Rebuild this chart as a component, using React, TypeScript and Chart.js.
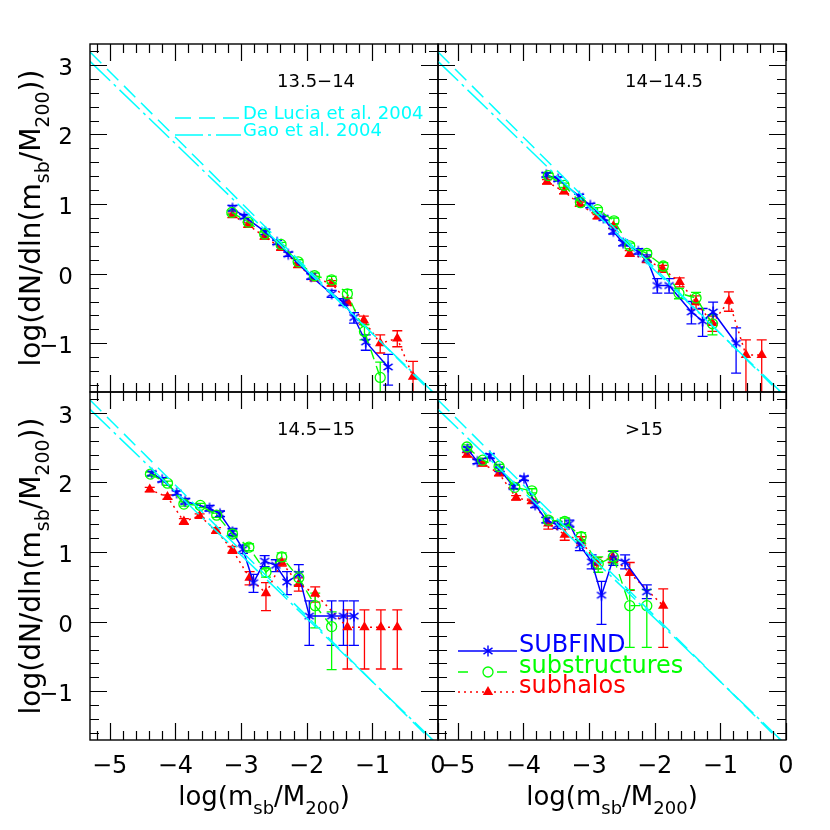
import React, { useEffect, useRef } from "react";
import { Chart, registerables } from "chart.js";
Chart.register(...registerables);

// ---------- axis ranges & tick labels ----------
const X_MIN = -5.3;
const X_MAX = 0;
const Y_MIN = -1.7;
const Y_MAX = 3.3;
const MINOR_STEP = 0.2;
const xMajorTicks = [-5, -4, -3, -2, -1, 0];
const xTickLabels = ["−5", "−4", "−3", "−2", "−1", "0"];
const yMajorTicks = [-1, 0, 1, 2, 3];
const yTickLabels = ["−1", "0", "1", "2", "3"];

const panelTitles = ["13.5−14", "14−14.5", "14.5−15", ">15"];
const seriesNames = ["SUBFIND", "substructures", "subhalos"];
const refNames = ["De Lucia et al. 2004", "Gao et al. 2004"];
const xTitleParts = [
  { t: "log(m", sub: false },
  { t: "sb", sub: true },
  { t: "/M", sub: false },
  { t: "200", sub: true },
  { t: ")", sub: false },
];
const yTitleParts = [
  { t: "log(dN/dln(m", sub: false },
  { t: "sb", sub: true },
  { t: "/M", sub: false },
  { t: "200", sub: true },
  { t: "))", sub: false },
];

// ---------- reference fits ----------
const deLuciaX = [-5.3, 0];
const deLuciaY = [3.185, -1.8];
const gaoX = [-5.3, 0];
const gaoY = [3.05, -1.77];

// ---------- panel 1 : 13.5-14 ----------
const p1SfX = [-3.13, -2.95, -2.63, -2.45, -2.28, -1.93, -1.62, -1.44, -1.28, -1.1, -0.76];
const p1SfY = [0.94, 0.82, 0.6, 0.45, 0.28, -0.04, -0.29, -0.41, -0.63, -0.98, -1.34];
const p1SfUp = [0.04, 0.03, 0.04, 0.03, 0.03, 0.04, 0.05, 0.05, 0.07, 0.1, 0.18];
const p1SfDn = [0.04, 0.03, 0.04, 0.03, 0.03, 0.04, 0.05, 0.05, 0.08, 0.12, 0.26];

const p1SsX = [-3.14, -2.89, -2.64, -2.39, -2.13, -1.88, -1.62, -1.38, -1.12, -0.88];
const p1SsY = [0.88, 0.74, 0.57, 0.42, 0.17, -0.03, -0.09, -0.29, -0.83, -1.49];
const p1SsUp = [0.03, 0.03, 0.03, 0.03, 0.03, 0.04, 0.05, 0.06, 0.1, 0.22];
const p1SsDn = [0.03, 0.03, 0.03, 0.03, 0.03, 0.04, 0.05, 0.06, 0.12, 0.4];

const p1ShX = [-3.13, -2.89, -2.64, -2.39, -2.13, -1.88, -1.62, -1.38, -1.13, -0.88, -0.62, -0.38];
const p1ShY = [0.84, 0.7, 0.53, 0.37, 0.12, -0.07, -0.14, -0.4, -0.67, -1.0, -0.93, -1.48];
const p1ShUp = [0.03, 0.03, 0.03, 0.03, 0.03, 0.03, 0.04, 0.05, 0.06, 0.12, 0.11, 0.22];
const p1ShDn = [0.03, 0.03, 0.03, 0.03, 0.03, 0.03, 0.04, 0.05, 0.06, 0.14, 0.12, 0.4];

// ---------- panel 2 : 14-14.5 ----------
const p2SfX = [-3.65, -3.47, -3.15, -2.98, -2.78, -2.63, -2.48, -2.25, -2.12, -1.96, -1.78, -1.44, -1.27, -1.11, -0.76];
const p2SfY = [1.42, 1.36, 1.11, 0.98, 0.8, 0.61, 0.44, 0.32, 0.22, -0.17, -0.17, -0.55, -0.68, -0.55, -1.0];
const p2SfUp = [0.03, 0.03, 0.03, 0.03, 0.03, 0.04, 0.04, 0.04, 0.05, 0.1, 0.1, 0.15, 0.18, 0.14, 0.22];
const p2SfDn = [0.03, 0.03, 0.03, 0.03, 0.03, 0.04, 0.04, 0.04, 0.05, 0.11, 0.11, 0.17, 0.22, 0.16, 0.43];

const p2SsX = [-3.62, -3.38, -3.13, -2.87, -2.62, -2.38, -2.12, -1.87, -1.63, -1.37, -1.12];
const p2SsY = [1.41, 1.27, 1.02, 0.92, 0.76, 0.4, 0.29, 0.11, -0.28, -0.35, -0.72];
const p2SsUp = [0.03, 0.03, 0.03, 0.03, 0.04, 0.04, 0.04, 0.05, 0.07, 0.08, 0.13];
const p2SsDn = [0.03, 0.03, 0.03, 0.03, 0.04, 0.04, 0.04, 0.05, 0.08, 0.09, 0.16];

const p2ShX = [-3.64, -3.38, -3.14, -2.87, -2.63, -2.38, -2.12, -1.88, -1.62, -1.37, -1.12, -0.87, -0.61, -0.37];
const p2ShY = [1.32, 1.18, 1.0, 0.82, 0.68, 0.29, 0.2, 0.07, -0.12, -0.41, -0.71, -0.39, -1.17, -1.17];
const p2ShUp = [0.03, 0.03, 0.03, 0.03, 0.03, 0.04, 0.04, 0.05, 0.06, 0.09, 0.1, 0.13, 0.22, 0.22];
const p2ShDn = [0.03, 0.03, 0.03, 0.03, 0.03, 0.04, 0.04, 0.05, 0.07, 0.1, 0.12, 0.15, 0.6, 0.6];

// ---------- panel 3 : 14.5-15 ----------
const p3SfX = [-4.36, -4.2, -3.98, -3.85, -3.48, -3.32, -3.13, -2.97, -2.81, -2.64, -2.47, -2.3, -2.12, -1.96, -1.62, -1.44, -1.28];
const p3SfY = [2.13, 2.04, 1.85, 1.73, 1.63, 1.55, 1.29, 1.04, 0.56, 0.87, 0.81, 0.57, 0.68, 0.08, 0.08, 0.08, 0.08];
const p3SfUp = [0.03, 0.03, 0.03, 0.04, 0.04, 0.04, 0.05, 0.06, 0.12, 0.08, 0.08, 0.15, 0.14, 0.22, 0.22, 0.22, 0.22];
const p3SfDn = [0.03, 0.03, 0.03, 0.04, 0.04, 0.04, 0.05, 0.06, 0.14, 0.08, 0.09, 0.18, 0.16, 0.42, 0.42, 0.42, 0.42];

const p3SsX = [-4.38, -4.12, -3.87, -3.62, -3.37, -3.13, -2.88, -2.62, -2.38, -2.12, -1.87, -1.62];
const p3SsY = [2.12, 1.99, 1.69, 1.67, 1.53, 1.26, 1.07, 0.71, 0.93, 0.63, 0.23, -0.07];
const p3SsUp = [0.03, 0.03, 0.03, 0.03, 0.03, 0.04, 0.05, 0.06, 0.06, 0.09, 0.18, 0.21];
const p3SsDn = [0.03, 0.03, 0.03, 0.03, 0.03, 0.04, 0.05, 0.07, 0.06, 0.1, 0.32, 0.62];

const p3ShX = [-4.39, -4.12, -3.87, -3.63, -3.38, -3.13, -2.87, -2.62, -2.38, -2.12, -1.87, -1.38, -1.12, -0.87, -0.62];
const p3ShY = [1.9, 1.79, 1.44, 1.52, 1.31, 1.03, 0.63, 0.41, 0.85, 0.54, 0.4, -0.08, -0.08, -0.08, -0.08];
const p3ShUp = [0.03, 0.03, 0.04, 0.03, 0.04, 0.05, 0.09, 0.15, 0.05, 0.09, 0.1, 0.25, 0.25, 0.25, 0.25];
const p3ShDn = [0.03, 0.03, 0.04, 0.03, 0.04, 0.05, 0.1, 0.25, 0.05, 0.1, 0.12, 0.6, 0.6, 0.6, 0.6];

// ---------- panel 4 : >15 ----------
const p4SfX = [-4.85, -4.7, -4.51, -4.36, -4.15, -3.99, -3.82, -3.65, -3.48, -3.3, -3.14, -2.96, -2.81, -2.63, -2.45, -2.12];
const p4SfY = [2.48, 2.3, 2.38, 2.19, 1.94, 2.06, 1.68, 1.46, 1.39, 1.41, 1.1, 0.86, 0.38, 0.91, 0.86, 0.43];
const p4SfUp = [0.03, 0.03, 0.03, 0.03, 0.03, 0.03, 0.04, 0.04, 0.05, 0.05, 0.08, 0.1, 0.2, 0.1, 0.1, 0.1];
const p4SfDn = [0.03, 0.03, 0.03, 0.03, 0.03, 0.03, 0.04, 0.04, 0.05, 0.05, 0.08, 0.1, 0.42, 0.1, 0.1, 0.1];

const p4SsX = [-4.86, -4.62, -4.37, -4.13, -3.87, -3.62, -3.37, -3.12, -2.86, -2.63, -2.38, -2.12];
const p4SsY = [2.51, 2.32, 2.23, 1.93, 1.88, 1.46, 1.44, 1.22, 0.83, 0.93, 0.23, 0.23];
const p4SsUp = [0.03, 0.03, 0.03, 0.03, 0.03, 0.04, 0.05, 0.06, 0.1, 0.09, 0.23, 0.23];
const p4SsDn = [0.03, 0.03, 0.03, 0.03, 0.03, 0.04, 0.05, 0.06, 0.12, 0.1, 0.6, 0.6];

const p4ShX = [-4.86, -4.62, -4.37, -4.11, -3.87, -3.62, -3.37, -3.12, -2.88, -2.64, -2.38, -1.87];
const p4ShY = [2.4, 2.27, 2.13, 1.78, 1.73, 1.41, 1.25, 1.16, 0.84, 0.93, 0.7, 0.23];
const p4ShUp = [0.03, 0.03, 0.03, 0.03, 0.03, 0.08, 0.08, 0.06, 0.08, 0.08, 0.15, 0.24];
const p4ShDn = [0.03, 0.03, 0.03, 0.03, 0.03, 0.08, 0.08, 0.06, 0.08, 0.08, 0.25, 0.6];

// ---------- styling / layout (not data) ----------
const COL_BLUE = "#0000ff";
const COL_GREEN = "#00ff00";
const COL_RED = "#ff0000";
const COL_CYAN = "#00ffff";
const FONT = '"DejaVu Sans ExtraLight", "DejaVu Sans", "Liberation Sans", sans-serif';
const W = 830;
const PANEL_LEFTS = [90, 438];
const PANEL_TOPS = [44, 392];
const PANEL_SIZE = 348;

type Series = { x: number[]; y: number[]; up: number[]; dn: number[] };
type Panel = { title: string; sf: Series; ss: Series; sh: Series };

const panels: Panel[] = [
  {
    title: panelTitles[0],
    sf: { x: p1SfX, y: p1SfY, up: p1SfUp, dn: p1SfDn },
    ss: { x: p1SsX, y: p1SsY, up: p1SsUp, dn: p1SsDn },
    sh: { x: p1ShX, y: p1ShY, up: p1ShUp, dn: p1ShDn },
  },
  {
    title: panelTitles[1],
    sf: { x: p2SfX, y: p2SfY, up: p2SfUp, dn: p2SfDn },
    ss: { x: p2SsX, y: p2SsY, up: p2SsUp, dn: p2SsDn },
    sh: { x: p2ShX, y: p2ShY, up: p2ShUp, dn: p2ShDn },
  },
  {
    title: panelTitles[2],
    sf: { x: p3SfX, y: p3SfY, up: p3SfUp, dn: p3SfDn },
    ss: { x: p3SsX, y: p3SsY, up: p3SsUp, dn: p3SsDn },
    sh: { x: p3ShX, y: p3ShY, up: p3ShUp, dn: p3ShDn },
  },
  {
    title: panelTitles[3],
    sf: { x: p4SfX, y: p4SfY, up: p4SfUp, dn: p4SfDn },
    ss: { x: p4SsX, y: p4SsY, up: p4SsUp, dn: p4SsDn },
    sh: { x: p4ShX, y: p4ShY, up: p4ShUp, dn: p4ShDn },
  },
];

function makeStar(color: string): HTMLCanvasElement {
  const c = document.createElement("canvas");
  c.width = 14;
  c.height = 14;
  const g = c.getContext("2d")!;
  g.strokeStyle = color;
  g.lineWidth = 1.4;
  const r = 5.5;
  g.beginPath();
  for (const deg of [90, 35, 145]) {
    const a = (deg * Math.PI) / 180;
    g.moveTo(7 - r * Math.cos(a), 7 - r * Math.sin(a));
    g.lineTo(7 + r * Math.cos(a), 7 + r * Math.sin(a));
  }
  g.stroke();
  return c;
}

function toPts(xs: number[], ys: number[]) {
  return xs.map((x, i) => ({ x, y: ys[i] }));
}

function drawRich(
  ctx: CanvasRenderingContext2D,
  parts: { t: string; sub: boolean }[],
  x: number,
  y: number,
  main: number,
  sub: number,
  drop: number
) {
  const fm = `${main}px ${FONT}`;
  const fs = `${sub}px ${FONT}`;
  const widths = parts.map((p) => {
    ctx.font = p.sub ? fs : fm;
    return ctx.measureText(p.t).width;
  });
  const total = widths.reduce((a, b) => a + b, 0);
  let cx = x - total / 2;
  ctx.textAlign = "left";
  ctx.textBaseline = "alphabetic";
  parts.forEach((p, i) => {
    ctx.font = p.sub ? fs : fm;
    ctx.fillText(p.t, cx, p.sub ? y + drop : y);
    cx += widths[i];
  });
}

function drawTriangle(ctx: CanvasRenderingContext2D, x: number, y: number, r: number) {
  ctx.beginPath();
  let a = 0;
  ctx.moveTo(x + Math.sin(a) * r, y - Math.cos(a) * r);
  a += (2 * Math.PI) / 3;
  ctx.lineTo(x + Math.sin(a) * r, y - Math.cos(a) * r);
  a += (2 * Math.PI) / 3;
  ctx.lineTo(x + Math.sin(a) * r, y - Math.cos(a) * r);
  ctx.closePath();
  ctx.fill();
}

function makeDeco(panel: Panel, idx: number, star: HTMLCanvasElement) {
  const col = idx % 2;
  const row = Math.floor(idx / 2);
  return {
    id: "deco" + idx,
    beforeDatasetsDraw(chart: any) {
      const { ctx, chartArea: a, scales } = chart;
      const xs = scales.x;
      const ys = scales.y;
      ctx.save();
      ctx.beginPath();
      ctx.rect(a.left, a.top, a.right - a.left, a.bottom - a.top);
      ctx.clip();
      ctx.lineWidth = 1.3;
      ctx.setLineDash([]);
      const sets: [Series, string][] = [
        [panel.sh, COL_RED],
        [panel.sf, COL_BLUE],
        [panel.ss, COL_GREEN],
      ];
      for (const [s, color] of sets) {
        ctx.strokeStyle = color;
        s.x.forEach((xv, i) => {
          const px = xs.getPixelForValue(xv);
          const pTop = ys.getPixelForValue(s.y[i] + s.up[i]);
          const pBot = ys.getPixelForValue(s.y[i] - s.dn[i]);
          ctx.beginPath();
          ctx.moveTo(px, pTop);
          ctx.lineTo(px, pBot);
          ctx.moveTo(px - 5, pTop);
          ctx.lineTo(px + 5, pTop);
          ctx.moveTo(px - 5, pBot);
          ctx.lineTo(px + 5, pBot);
          ctx.stroke();
        });
      }
      ctx.restore();
    },
    afterDraw(chart: any) {
      const { ctx, chartArea: a, scales } = chart;
      const xs = scales.x;
      const ys = scales.y;
      ctx.save();
      ctx.setLineDash([]);
      // frame
      ctx.strokeStyle = "#000";
      ctx.lineWidth = 1.4;
      ctx.strokeRect(a.left, a.top, a.right - a.left, a.bottom - a.top);
      // ticks
      ctx.lineWidth = 1.2;
      ctx.beginPath();
      for (let k = Math.ceil(X_MIN / MINOR_STEP - 1e-9); k * MINOR_STEP <= X_MAX + 1e-9; k++) {
        const v = k * MINOR_STEP;
        const major = Math.abs(v - Math.round(v)) < 1e-6;
        const len = major ? 17 : 9;
        const px = Math.round(xs.getPixelForValue(v)) + 0.5;
        ctx.moveTo(px, a.bottom);
        ctx.lineTo(px, a.bottom - len);
        ctx.moveTo(px, a.top);
        ctx.lineTo(px, a.top + len);
      }
      for (let k = Math.ceil(Y_MIN / MINOR_STEP - 1e-9); k * MINOR_STEP <= Y_MAX + 1e-9; k++) {
        const v = k * MINOR_STEP;
        const major = Math.abs(v - Math.round(v)) < 1e-6;
        const len = major ? 17 : 9;
        const py = Math.round(ys.getPixelForValue(v)) + 0.5;
        ctx.moveTo(a.left, py);
        ctx.lineTo(a.left + len, py);
        ctx.moveTo(a.right, py);
        ctx.lineTo(a.right - len, py);
      }
      ctx.stroke();

      ctx.fillStyle = "#000";
      if (row === 1) {
        drawRich(ctx, xTitleParts, (a.left + a.right) / 2, a.bottom + 65, 26, 18, 9);
        ctx.font = `24px ${FONT}`;
        ctx.textAlign = "center";
        ctx.textBaseline = "alphabetic";
        xMajorTicks.forEach((v, i) => {
          ctx.fillText(xTickLabels[i], xs.getPixelForValue(v), a.bottom + 33);
        });
      }
      if (col === 0) {
        ctx.save();
        ctx.translate(40, (a.top + a.bottom) / 2);
        ctx.rotate(-Math.PI / 2);
        drawRich(ctx, yTitleParts, 0, 0, 28, 19, 9);
        ctx.restore();
        ctx.font = `23px ${FONT}`;
        ctx.textAlign = "right";
        ctx.textBaseline = "middle";
        yMajorTicks.forEach((v, i) => {
          ctx.fillText(yTickLabels[i], a.left - 17, ys.getPixelForValue(v) + 4);
        });
      }
      // panel title
      ctx.font = `18px ${FONT}`;
      ctx.textAlign = "left";
      ctx.textBaseline = "alphabetic";
      ctx.fillText(panel.title, a.left + 187, a.top + 43);

      // reference-fit legend (first panel)
      if (idx === 0) {
        ctx.strokeStyle = COL_CYAN;
        ctx.fillStyle = COL_CYAN;
        ctx.lineWidth = 1.5;
        const lx0 = a.left + 85;
        const lx1 = a.left + 151;
        ctx.setLineDash([16, 8]);
        ctx.beginPath();
        ctx.moveTo(lx0, a.top + 74);
        ctx.lineTo(lx1, a.top + 74);
        ctx.stroke();
        ctx.setLineDash([28, 5, 3, 5]);
        ctx.beginPath();
        ctx.moveTo(lx0, a.top + 91);
        ctx.lineTo(lx1, a.top + 91);
        ctx.stroke();
        ctx.setLineDash([]);
        ctx.font = `18px ${FONT}`;
        ctx.fillText(refNames[0], a.left + 153, a.top + 75);
        ctx.fillText(refNames[1], a.left + 153, a.top + 92);
      }

      // series legend (last panel)
      if (idx === 3) {
        const lx0 = a.left + 20;
        const lx1 = a.left + 79;
        const mx = a.left + 50;
        const rows = [a.top + 259, a.top + 280, a.top + 300];
        const colors = [COL_BLUE, COL_GREEN, COL_RED];
        const dashes = [[], [10, 29], [2, 4]];
        ctx.lineWidth = 1.5;
        ctx.font = `24px ${FONT}`;
        rows.forEach((ry, i) => {
          ctx.strokeStyle = colors[i];
          ctx.fillStyle = colors[i];
          ctx.setLineDash(dashes[i]);
          ctx.beginPath();
          ctx.moveTo(lx0, ry);
          ctx.lineTo(lx1, ry);
          ctx.stroke();
          ctx.setLineDash([]);
          if (i === 0) {
            ctx.drawImage(star, mx - star.width / 2, ry - star.height / 2);
          } else if (i === 1) {
            ctx.lineWidth = 1.3;
            ctx.beginPath();
            ctx.arc(mx, ry, 5, 0, Math.PI * 2);
            ctx.stroke();
            ctx.lineWidth = 1.5;
          } else {
            drawTriangle(ctx, mx, ry, 6);
          }
          ctx.fillText(seriesNames[i], a.left + 81, ry + 1);
        });
      }
      ctx.restore();
    },
  };
}

function makeConfig(panel: Panel, idx: number, star: HTMLCanvasElement): any {
  const col = idx % 2;
  const row = Math.floor(idx / 2);
  const left = PANEL_LEFTS[col];
  const top = PANEL_TOPS[row];
  const datasets: any[] = [
    {
      label: refNames[0],
      data: toPts(deLuciaX, deLuciaY),
      borderColor: COL_CYAN,
      borderWidth: 1.5,
      borderDash: [16, 8],
      pointRadius: 0,
      fill: false,
    },
    {
      label: refNames[1],
      data: toPts(gaoX, gaoY),
      borderColor: COL_CYAN,
      borderWidth: 1.5,
      borderDash: [28, 5, 3, 5],
      pointRadius: 0,
      fill: false,
    },
    {
      label: seriesNames[1],
      data: toPts(panel.ss.x, panel.ss.y),
      borderColor: COL_GREEN,
      borderWidth: 1.4,
      borderDash: [10, 7],
      pointStyle: "circle",
      pointRadius: 5,
      pointBorderWidth: 1.3,
      pointBorderColor: COL_GREEN,
      pointBackgroundColor: "rgba(0,0,0,0)",
      fill: false,
    },
    {
      label: seriesNames[0],
      data: toPts(panel.sf.x, panel.sf.y),
      borderColor: COL_BLUE,
      borderWidth: 1.5,
      pointStyle: star,
      pointRadius: 6,
      fill: false,
    },
    {
      label: seriesNames[2],
      data: toPts(panel.sh.x, panel.sh.y),
      borderColor: COL_RED,
      borderWidth: 1.5,
      borderDash: [2, 4],
      pointStyle: "triangle",
      pointRadius: 6,
      pointBorderWidth: 0,
      pointBackgroundColor: COL_RED,
      pointBorderColor: COL_RED,
      fill: false,
    },
  ];
  return {
    type: "line",
    data: { datasets },
    options: {
      animation: false,
      responsive: false,
      maintainAspectRatio: false,
      devicePixelRatio: 1,
      events: [],
      elements: { line: { tension: 0 } },
      layout: {
        padding: {
          left,
          top,
          right: W - left - PANEL_SIZE,
          bottom: W - top - PANEL_SIZE,
        },
      },
      scales: {
        x: { type: "linear", min: X_MIN, max: X_MAX, display: false },
        y: { type: "linear", min: Y_MIN, max: Y_MAX, display: false },
      },
      plugins: {
        legend: { display: false },
        tooltip: { enabled: false },
        title: { display: false },
      },
    },
    plugins: [makeDeco(panel, idx, star)],
  };
}

export default function App() {
  const refs = useRef<(HTMLCanvasElement | null)[]>([]);
  useEffect(() => {
    const star = makeStar(COL_BLUE);
    const charts = panels.map((p, i) => new Chart(refs.current[i] as HTMLCanvasElement, makeConfig(p, i, star)));
    return () => charts.forEach((c) => c.destroy());
  }, []);
  return (
    <div
      style={{
        position: "fixed",
        left: 0,
        top: 0,
        width: W,
        height: W,
        background: "#ffffff",
      }}
    >
      {panels.map((_, i) => (
        <canvas
          key={i}
          ref={(el) => {
            refs.current[i] = el;
          }}
          width={W}
          height={W}
          style={{ position: "absolute", left: 0, top: 0, width: W, height: W }}
        />
      ))}
    </div>
  );
}
